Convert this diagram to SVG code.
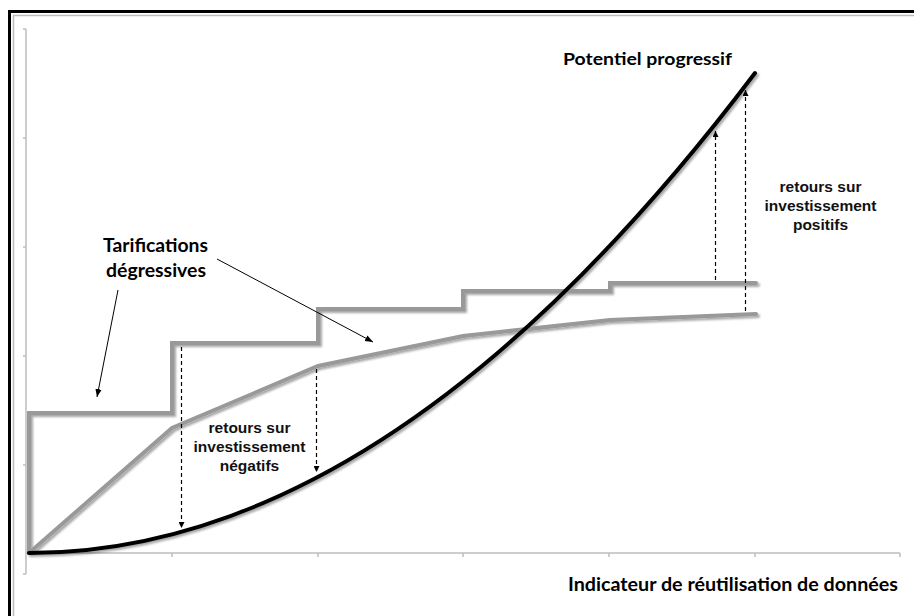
<svg xmlns="http://www.w3.org/2000/svg" width="914" height="616" viewBox="0 0 914 616">
<style>
.axis{stroke:#bdbdbd;stroke-width:1.5;fill:none}
.grey{stroke:#999999;stroke-width:4;fill:none;stroke-linejoin:miter;stroke-linecap:round}
.black{stroke:#000;stroke-width:4;fill:none;stroke-linecap:round}
.dash{stroke:#000;stroke-width:1.2;stroke-dasharray:4 3;fill:none}
.thin{stroke:#000;stroke-width:1;fill:none}
.lbl{font-family:Lato,"Open Sans","Liberation Sans",sans-serif;font-weight:bold;fill:#000}
.roi{font-family:"Liberation Sans",Arial,sans-serif;font-weight:bold;font-size:15.5px;fill:#111;text-anchor:middle}
</style>
<defs>
<filter id="sh" x="-10%" y="-10%" width="130%" height="130%">
<feDropShadow dx="2" dy="2" stdDeviation="1.2" flood-color="#000" flood-opacity="0.35"/>
</filter>
<marker id="ah" viewBox="0 0 10 10" refX="10" refY="5" markerWidth="6" markerHeight="6" orient="auto" markerUnits="userSpaceOnUse">
<path d="M0,0 L10,5 L0,10 z" fill="#000"/>
</marker>
<marker id="ah2" viewBox="0 0 10 10" refX="10" refY="5" markerWidth="8" markerHeight="8" orient="auto" markerUnits="userSpaceOnUse">
<path d="M0,1 L10,5 L0,9 z" fill="#000"/>
</marker>
</defs>
<rect x="0" y="0" width="914" height="616" fill="#fff"/>
<g id="frame">
<rect x="9.5" y="11.5" width="930" height="640" fill="none" stroke="#000" stroke-width="3"/>
<rect x="13.5" y="15.5" width="930" height="640" fill="none" stroke="#bbbbbb" stroke-width="1.5"/>
</g>
<g id="axes">
<path class="axis" d="M26,29 V574 M23,29 H26 M23,138 H26 M23,247 H26 M23,356 H26 M23,465 H26 M23,574 H26"/>
<path class="axis" d="M26,553 H900 M172,553 V557 M318,553 V557 M463,553 V557 M609,553 V557 M755,553 V557 M900,553 V557"/>
</g>
<g id="series" filter="url(#sh)">
<path id="step" class="grey" d="M29,553 V413 H172 V343 H318 V309 H463 V291 H610 V283 H756"/>
<path id="degressive" class="grey" d="M29,553 L172,428 L318,366 L463,336 L610,320 L756,314"/>
<path id="progressif" class="black" d="M29,553 Q392,553 755,73"/>
</g>
<g id="connectors">
<line class="dash" x1="181.5" y1="347" x2="181.5" y2="528" marker-end="url(#ah)"/>
<line class="dash" x1="316.5" y1="369" x2="316.5" y2="472" marker-end="url(#ah)"/>
<line class="dash" x1="715.5" y1="280" x2="715.5" y2="131" marker-end="url(#ah)"/>
<line class="dash" x1="745.5" y1="311" x2="745.5" y2="90" marker-end="url(#ah)"/>
<line class="thin" x1="118" y1="290" x2="97" y2="397" marker-end="url(#ah2)"/>
<line class="thin" x1="217" y1="259" x2="373" y2="342" marker-end="url(#ah2)"/>
</g>
<g id="label-potentiel"><text class="lbl" x="563" y="65" font-size="17" textLength="169" lengthAdjust="spacingAndGlyphs">Potentiel progressif</text></g>
<g id="label-tarifications">
<text class="lbl" x="103" y="252" font-size="19" textLength="105" lengthAdjust="spacingAndGlyphs">Tarifications</text>
<text class="lbl" x="106" y="277" font-size="19" textLength="100" lengthAdjust="spacingAndGlyphs">dégressives</text>
</g>
<g id="label-negatifs">
<text class="roi" x="249.5" y="433">retours sur</text>
<text class="roi" x="249.5" y="452">investissement</text>
<text class="roi" x="249.5" y="471">négatifs</text>
</g>
<g id="label-positifs">
<text class="roi" x="820.5" y="192">retours sur</text>
<text class="roi" x="820.5" y="211">investissement</text>
<text class="roi" x="820.5" y="230">positifs</text>
</g>
<g id="label-axis"><text class="lbl" x="568" y="591" font-size="18" textLength="330" lengthAdjust="spacingAndGlyphs">Indicateur de réutilisation de données</text></g>
</svg>
